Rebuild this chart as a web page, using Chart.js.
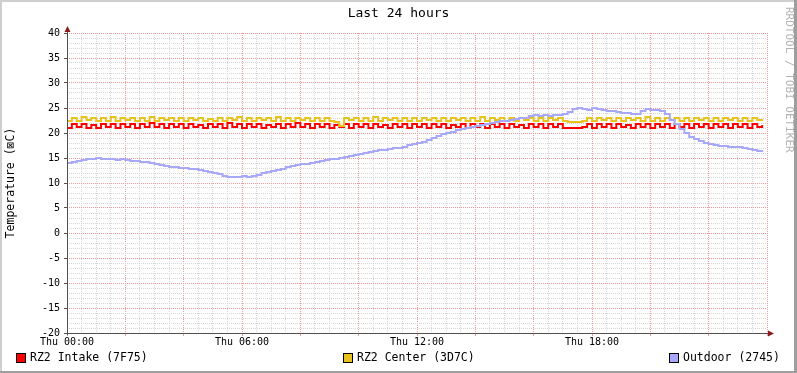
<!DOCTYPE html>
<html><head><meta charset="utf-8">
<script src="https://cdn.jsdelivr.net/npm/chart.js@4.4.1/dist/chart.umd.min.js"></script>
<style>html,body{margin:0;padding:0;background:#fff;overflow:hidden}canvas{display:block}</style>
</head><body>
<canvas id="c" width="797" height="373"></canvas>
<script>
// 10-minute steps over 24 hours (index 0..143)
const intake = [
21.0,21.8,21.2,21.8,21.0,21.6,21.0,21.8,21.2,21.8,21.0,21.8,
21.2,21.8,21.0,21.8,21.2,22.0,21.2,21.8,21.0,21.8,21.2,21.8,
21.0,21.8,21.2,21.6,21.0,21.8,21.2,21.8,21.0,22.0,21.2,21.8,
21.0,21.8,21.2,21.8,21.0,21.6,21.2,21.8,21.0,21.8,21.2,22.0,
21.2,21.8,21.0,21.8,21.2,21.8,21.0,21.6,21.2,21.8,21.0,21.8,
21.2,21.8,21.0,21.8,21.2,21.6,21.0,21.8,21.2,21.8,21.0,21.8,
21.2,21.8,21.0,21.8,21.2,21.8,21.0,21.6,21.2,21.8,21.0,21.8,
21.2,21.8,21.0,21.8,21.2,21.8,21.0,21.8,21.2,21.6,21.0,21.8,
21.2,21.8,21.0,21.8,21.2,21.8,21.0,21.0,21.0,21.0,21.2,21.8,
21.0,21.8,21.2,21.8,21.0,21.8,21.2,21.6,21.0,21.8,21.2,21.8,
21.0,21.8,21.2,21.8,21.0,21.8,21.2,21.8,21.0,21.8,21.2,21.8,
21.0,21.8,21.2,21.8,21.0,21.8,21.2,21.8,21.0,21.8,21.2,21.6
];
const center = [
22.4,23.0,22.4,23.2,22.6,23.0,22.4,23.0,22.4,23.2,22.4,23.0,
22.6,23.0,22.4,23.0,22.4,23.2,22.4,23.0,22.6,23.0,22.4,23.0,
22.4,23.0,22.6,23.0,22.4,22.8,22.4,23.0,22.4,23.0,22.6,23.2,
22.4,23.0,22.4,23.0,22.6,23.0,22.4,23.2,22.4,23.0,22.4,23.0,
22.6,23.0,22.4,23.0,22.4,23.0,22.4,22.2,21.4,23.0,22.6,23.0,
22.4,23.0,22.4,23.2,22.4,23.0,22.6,23.0,22.4,23.0,22.4,23.0,
22.4,23.0,22.6,23.0,22.4,23.0,22.4,23.0,22.6,23.0,22.4,23.0,
22.4,23.2,22.4,23.0,22.6,23.0,22.4,23.0,22.4,23.0,22.6,23.0,
22.4,23.0,22.4,23.0,22.6,23.0,22.4,22.2,22.2,22.2,22.4,23.0,
22.4,23.0,22.6,23.0,22.4,23.0,22.4,23.0,22.6,23.0,22.4,23.2,
22.4,23.0,22.4,23.0,22.6,23.0,22.4,23.0,22.4,23.0,22.6,23.0,
22.4,23.0,22.4,23.0,22.6,23.0,22.4,23.0,22.4,23.0,22.6,22.8
];
const outdoor = [
14.0,14.2,14.4,14.6,14.8,14.8,15.0,14.8,14.8,14.8,14.6,14.8,
14.6,14.4,14.4,14.2,14.2,14.0,13.8,13.6,13.4,13.2,13.2,13.0,
13.0,12.8,12.8,12.6,12.4,12.2,12.0,11.8,11.4,11.2,11.2,11.2,
11.4,11.2,11.4,11.6,12.0,12.2,12.4,12.6,12.8,13.2,13.4,13.6,
13.8,13.8,14.0,14.2,14.4,14.6,14.8,14.8,15.0,15.2,15.4,15.6,
15.8,16.0,16.2,16.4,16.6,16.6,16.8,17.0,17.0,17.2,17.6,17.8,
18.0,18.2,18.6,19.0,19.4,19.8,20.0,20.2,20.6,20.8,21.0,21.2,
21.4,21.6,21.8,22.0,22.2,22.4,22.4,22.6,22.8,23.0,23.0,23.4,
23.6,23.4,23.6,23.4,23.6,23.6,23.8,24.2,24.8,25.0,24.8,24.6,
25.0,24.8,24.6,24.4,24.4,24.2,24.0,24.0,23.8,23.8,24.4,24.8,
24.6,24.6,24.4,23.8,22.6,21.8,20.8,20.0,19.2,18.8,18.4,18.0,
17.8,17.6,17.4,17.4,17.2,17.2,17.2,17.0,16.8,16.6,16.4,16.2
];
const seriesNames = ['RZ2 Intake (7F75)', 'RZ2 Center (3D7C)', 'Outdoor (2745)'];
const seriesColors = ['#FF0000', '#E8C21E', '#A8A8F8'];
const xTickLabels = ['Thu 00:00', 'Thu 06:00', 'Thu 12:00', 'Thu 18:00'];
const xLabelEvery = 36;   // 6 hours in 10-minute steps
const xMajorEvery = 12;   // 2 hours
const yLabelEvery = 5;
const titleText = 'Last 24 hours';
const yTitle = 'Temperature (\u22A0C)';
const watermark = 'RRDTOOL / TOBI OETIKER';

const MONO = '"DejaVu Sans Mono", monospace';
const toPts = arr => arr.map((v, i) => ({x: i, y: v}));
const seriesData = [intake, center, outdoor];

const deco = {
  id: 'deco',
  beforeDraw(chart) {
    const ctx = chart.ctx, W = chart.width, H = chart.height;
    ctx.save();
    ctx.fillStyle = '#FFFFFF';
    ctx.fillRect(0, 0, W, H);
    ctx.fillStyle = '#CFCFCF';
    ctx.fillRect(0, 0, W, 2);
    ctx.fillRect(0, 0, 2, H);
    ctx.fillStyle = '#9E9E9E';
    ctx.fillRect(0, H - 2, W, 2);
    ctx.fillRect(W - 3, 0, 3, H);
    ctx.fillStyle = '#000';
    ctx.font = '13px ' + MONO;
    ctx.textAlign = 'center';
    ctx.textBaseline = 'middle';
    ctx.fillText(titleText, W / 2, 14);
    const ca = chart.chartArea;
    ctx.save();
    ctx.translate(11, (ca.top + ca.bottom) / 2);
    ctx.rotate(-Math.PI / 2);
    ctx.font = '11.5px ' + MONO;
    ctx.fillText(yTitle, 0, 0);
    ctx.restore();
    ctx.save();
    ctx.translate(789, 7);
    ctx.rotate(Math.PI / 2);
    ctx.font = '11px ' + MONO;
    ctx.fillStyle = '#B4B4B4';
    ctx.textAlign = 'left';
    ctx.fillText(watermark, 0, 0);
    ctx.restore();
    const legX = [16, 343, 669];
    ctx.font = '11.5px ' + MONO;
    ctx.textAlign = 'left';
    chart.data.datasets.forEach((ds, i) => {
      const x = legX[i], y = 353;
      ctx.fillStyle = ds.borderColor;
      ctx.fillRect(x, y, 10, 10);
      ctx.strokeStyle = '#000';
      ctx.lineWidth = 1;
      ctx.strokeRect(x + 0.5, y + 0.5, 9, 9);
      ctx.fillStyle = '#000';
      ctx.fillText(ds.label, x + 14, y + 5.5);
    });
    ctx.restore();
  },
  afterDraw(chart) {
    const ctx = chart.ctx, ca = chart.chartArea;
    ctx.save();
    ctx.strokeStyle = '#505050';
    ctx.lineWidth = 1;
    ctx.beginPath();
    ctx.moveTo(ca.left + 0.5, ca.bottom + 2);
    ctx.lineTo(ca.left + 0.5, ca.top - 4);
    ctx.moveTo(ca.left - 2, ca.bottom + 0.5);
    ctx.lineTo(ca.right + 4, ca.bottom + 0.5);
    ctx.stroke();
    ctx.fillStyle = '#8B1A1A';
    ctx.beginPath();
    ctx.moveTo(ca.left + 0.5, ca.top - 7);
    ctx.lineTo(ca.left - 2.5, ca.top - 1);
    ctx.lineTo(ca.left + 3.5, ca.top - 1);
    ctx.closePath();
    ctx.fill();
    ctx.beginPath();
    ctx.moveTo(ca.right + 7, ca.bottom + 0.5);
    ctx.lineTo(ca.right + 1, ca.bottom - 2.5);
    ctx.lineTo(ca.right + 1, ca.bottom + 3.5);
    ctx.closePath();
    ctx.fill();
    ctx.restore();
  }
};

const minorGrid = '#D6D6D6';
const majorGrid = '#EE9A9A';

new Chart(document.getElementById('c'), {
  type: 'line',
  data: {
    datasets: seriesData.map((arr, i) => ({
      label: seriesNames[i],
      data: toPts(arr),
      borderColor: seriesColors[i],
      backgroundColor: seriesColors[i],
      borderWidth: 2,
      pointRadius: 0,
      stepped: true,
      fill: false,
      order: 2 - i
    }))
  },
  options: {
    responsive: false,
    animation: false,
    devicePixelRatio: 1,
    layout: {padding: {left: 0, right: 30, top: 33, bottom: 0}},
    plugins: {legend: {display: false}, tooltip: {enabled: false}, title: {display: false}},
    scales: {
      x: {
        type: 'linear', min: 0, max: 144,
        afterFit: s => { s.height = 40; },
        ticks: {
          stepSize: 3, autoSkip: false, maxRotation: 0, padding: 0,
          font: {family: MONO, size: 10}, color: '#000',
          callback: v => (v % xLabelEvery === 0 && xTickLabels[v / xLabelEvery]) ? xTickLabels[v / xLabelEvery] : ''
        },
        grid: {
          color: c => (c.tick && Math.round(c.tick.value) % xMajorEvery === 0) ? majorGrid : minorGrid,
          tickColor: c => (c.tick && Math.round(c.tick.value) % xMajorEvery === 0) ? majorGrid : 'rgba(0,0,0,0)',
          tickLength: 3, lineWidth: 1
        },
        border: {display: false, dash: [1, 1]}
      },
      y: {
        type: 'linear', min: -20, max: 40,
        afterFit: s => { s.width = 67; },
        ticks: {
          stepSize: 1, autoSkip: false, padding: 4,
          font: {family: MONO, size: 10}, color: '#000',
          callback: v => (v % yLabelEvery === 0) ? String(v) : ''
        },
        grid: {
          color: c => (c.tick && Math.round(c.tick.value) % yLabelEvery === 0) ? majorGrid : minorGrid,
          tickColor: c => (c.tick && Math.round(c.tick.value) % yLabelEvery === 0) ? '#505050' : 'rgba(0,0,0,0)',
          tickLength: 3, lineWidth: 1
        },
        border: {display: false, dash: [1, 1]}
      }
    }
  },
  plugins: [deco]
});
</script>
</body></html>
